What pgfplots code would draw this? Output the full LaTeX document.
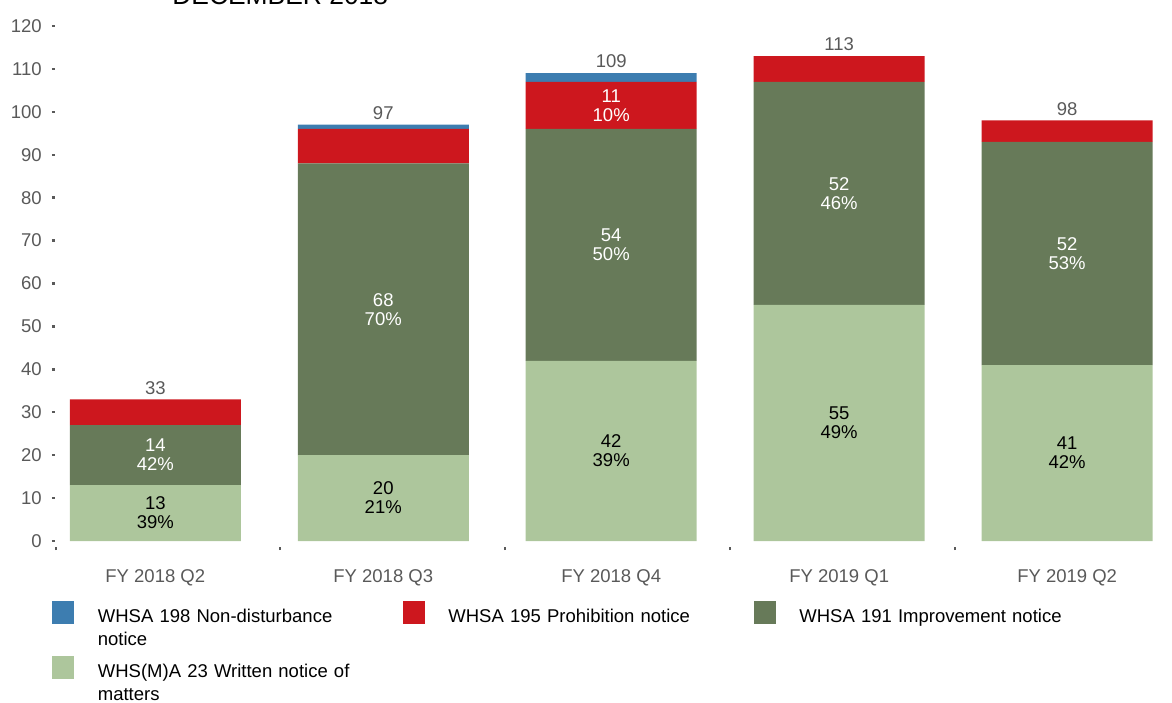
\documentclass[border=0pt]{standalone}
\usepackage{pgfplots}
\pgfplotsset{compat=1.18}
\usepackage{fontspec}
\setmainfont{Liberation Sans}
\definecolor{cblue}{RGB}{61,125,176}
\definecolor{cred}{RGB}{205,23,30}
\definecolor{cdark}{RGB}{103,122,89}
\definecolor{clight}{RGB}{173,198,156}
\definecolor{cgray}{RGB}{89,89,89}
\newcommand{\fs}{\fontsize{9.25}{9.5}\selectfont}
\pgfplotsset{base/.style={
  width=558.5pt, height=257.5pt, scale only axis,
  xmin=-0.44, xmax=4.46, ymin=0, ymax=120,
  /pgf/number format/assume math mode=true,
}}
\begin{document}
\begin{tikzpicture}
\begin{axis}[base,
  ybar stacked, bar width=85.5pt,
  axis x line*=bottom, axis y line*=left,
  axis line style={draw=none},
  ytick={0,10,...,120},
  yticklabel style={text=cgray, font=\fs, xshift=-1.5pt},
  xtick={0,1,2,3,4},
  xticklabels={FY 2018 Q2, FY 2018 Q3, FY 2018 Q4, FY 2019 Q1, FY 2019 Q2},
  xticklabel style={text=cgray, font=\fs, yshift=-9pt},
  x tick style={draw=none},
  y tick style={line width=1.2pt, cgray},
  tick align=outside, major tick length=1.6pt,
]
\addplot[fill=clight, draw=none] coordinates {(0,13) (1,20) (2,42) (3,55) (4,41)};
\addplot[fill=cdark, draw=none] coordinates {(0,14) (1,68) (2,54) (3,52) (4,52)};
\addplot[fill=cred, draw=none] coordinates {(0,6) (1,8) (2,11) (3,6) (4,5)};
\addplot[fill=cblue, draw=none] coordinates {(0,0) (1,1) (2,2) (3,0) (4,0)};
\coordinate (bl) at (rel axis cs:0,0);
\coordinate (tr) at (rel axis cs:1,1);
\end{axis}
\begin{axis}[base,
  axis x line*=bottom, axis y line=none,
  axis line style={draw=none},
  xtick={-0.435,0.547,1.534,2.52,3.507},
  xticklabels={},
  tick align=outside, major tick length=5pt,
  x tick style={draw=cgray, line width=1.2pt, dash pattern=on 0pt off 0.4pt on 1.4pt off 10pt},
  nodes near coords, point meta=explicit symbolic,
  nodes near coords align=center]
\addplot[draw=none, every node near coord/.append style={align=center, anchor=center, font=\fs, text=black}]
  coordinates {(0,6.5)[13\\39\%] (1,10)[20\\21\%] (2,21)[42\\39\%] (3,27.5)[55\\49\%] (4,20.5)[41\\42\%]};
\addplot[draw=none, every node near coord/.append style={align=center, anchor=center, font=\fs, text=white}]
  coordinates {(0,20)[14\\42\%] (1,54)[68\\70\%] (2,69)[54\\50\%] (3,81)[52\\46\%] (4,67)[52\\53\%] (2,101.5)[11\\10\%]};
\addplot[draw=none, every node near coord/.append style={anchor=south, font=\fs, text=cgray, yshift=-1pt}]
  coordinates {(0,33)[33] (1,97)[97] (2,109)[109] (3,113)[113] (4,98)[98]};
\end{axis}
% title (cut off at top, as in the reference)
\node[anchor=base west, inner sep=0pt, font=\fontsize{13.2}{15}\selectfont] at ([xshift=58.5pt, yshift=10.5pt]bl|-tr) {DECEMBER 2018};
% legend
\foreach \c/\dx/\dy/\t in {cblue/-1.25/-30/{WHSA 198 Non-disturbance \mbox{notice}},
  cred/174/-30/{WHSA 195 Prohibition notice},
  cdark/349.5/-30/{WHSA 191 Improvement notice},
  clight/-1.25/-57.5/{WHS(M)A 23 Written notice of \mbox{matters}}} {
  \fill[\c] ([xshift=\dx pt, yshift=\dy pt]bl) rectangle ++(11pt,-11.5pt);
  \node[anchor=base west, inner sep=0pt, text width=136pt, align=left, font=\fontsize{9.25}{11.5}\selectfont]
    at ([xshift=\dx pt+22.5pt, yshift=\dy pt-10.75pt]bl) {\t};
}
\pgfresetboundingbox
\path[use as bounding box] ([xshift=-27.5pt, yshift=-80.5pt]bl) rectangle ([yshift=13pt]tr);
\end{tikzpicture}
\end{document}
